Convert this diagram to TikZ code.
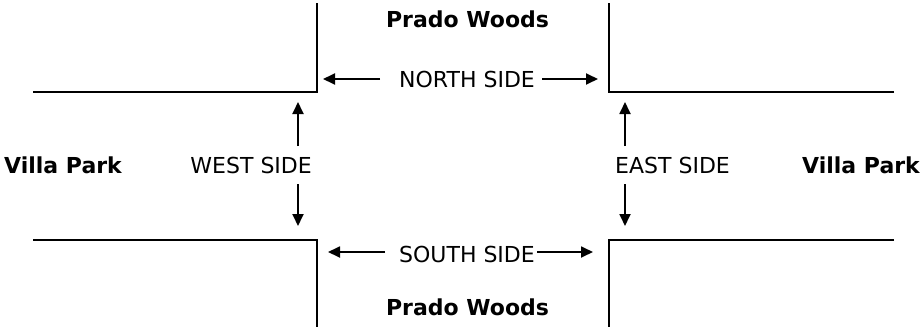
\documentclass[tikz,border=0pt]{standalone}
\usepackage{fontspec}
\setmainfont{DejaVu Sans}
\usetikzlibrary{arrows.meta}
\begin{document}
\begin{tikzpicture}[x=1pt,y=-1pt,
  curb/.style={line width=2.6pt, line join=miter},
  sidearrow/.style={line width=1.8pt, -{Triangle[length=12pt,width=11pt]}},
  lbl/.style={inner sep=0pt, anchor=base, font=\fontsize{22}{26}\selectfont},
  place/.style={lbl, font=\fontsize{22}{26}\selectfont\bfseries}]
\useasboundingbox (0,0) rectangle (922,327);

% curb corners of the four blocks
\coordinate (nwA) at (33,92);   \coordinate (nwB) at (317,92);  \coordinate (nwC) at (317,3);
\coordinate (neA) at (894,92);  \coordinate (neB) at (609,92);  \coordinate (neC) at (609,3);
\coordinate (swA) at (33,240);  \coordinate (swB) at (317,240); \coordinate (swC) at (317,327);
\coordinate (seA) at (894,240); \coordinate (seB) at (609,240); \coordinate (seC) at (609,327);
\draw[curb] (nwA) -- (nwB) -- (nwC);
\draw[curb] (neA) -- (neB) -- (neC);
\draw[curb] (swA) -- (swB) -- (swC);
\draw[curb] (seA) -- (seB) -- (seC);

% place names
\node[place] (prN) at (467.5,27) {Prado Woods};
\node[place] (prS) at (467.5,315) {Prado Woods};
\node[place, anchor=base west] (vpW) at (4,173) {Villa Park};
\node[place, anchor=base east] (vpE) at (920,173) {Villa Park};

% side labels
\node[lbl] (north) at (467,87) {NORTH SIDE};
\node[lbl] (south) at (467,262) {SOUTH SIDE};
\node[lbl, anchor=base east] (west) at (312,173) {WEST SIDE};
\node[lbl, anchor=base west] (east) at (615,173) {EAST SIDE};

% arrow ends
\coordinate (nL0) at (380,79);  \coordinate (nL1) at (323,79);
\coordinate (nR0) at (542,79);  \coordinate (nR1) at (598,79);
\coordinate (sL0) at (385,252); \coordinate (sL1) at (328,252);
\coordinate (sR0) at (537,252); \coordinate (sR1) at (593,252);
\coordinate (wU0) at (298,146); \coordinate (wU1) at (298,102);
\coordinate (wD0) at (298,184); \coordinate (wD1) at (298,226);
\coordinate (eU0) at (625,146); \coordinate (eU1) at (625,102);
\coordinate (eD0) at (625,184); \coordinate (eD1) at (625,226);

\draw[sidearrow] (nL0) -- (nL1);
\draw[sidearrow] (nR0) -- (nR1);
\draw[sidearrow] (sL0) -- (sL1);
\draw[sidearrow] (sR0) -- (sR1);
\draw[sidearrow] (wU0) -- (wU1);
\draw[sidearrow] (wD0) -- (wD1);
\draw[sidearrow] (eU0) -- (eU1);
\draw[sidearrow] (eD0) -- (eD1);
\end{tikzpicture}
\end{document}
